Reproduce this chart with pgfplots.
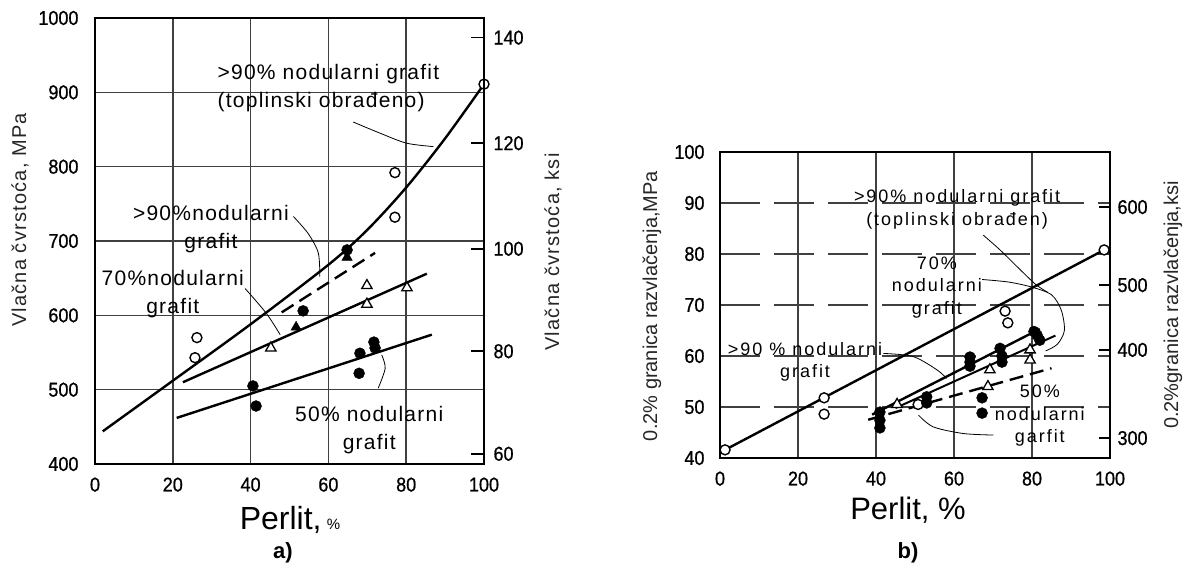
\documentclass[border=0pt]{standalone}
\usepackage{fontspec}
\setmainfont{Liberation Sans}
\newfontfamily\cond[FakeStretch=0.9,FakeBold=0.8]{Liberation Sans}
\newfontfamily\spaced[LetterSpace=6]{Liberation Sans}
\newfontfamily\spacedb[LetterSpace=11]{Liberation Sans}
\newcommand{\tkf}{\cond\fontsize{20}{20}\selectfont}
\usepackage{pgfplots}
\pgfplotsset{compat=1.18}
\pgfplotsset{
  oc/.style={only marks, mark=*, mark size=5pt, mark options={fill=white,draw=black,line width=1.4pt}},
  fc/.style={only marks, mark=*, mark size=5.5pt, mark options={fill=black,draw=black}},
  ft/.style={only marks, mark=triangle*, mark size=6pt, mark options={fill=black,draw=black}},
  ot/.style={only marks, mark=triangle*, mark size=6pt, mark options={fill=white,draw=black,line width=1.3pt}},
  fitline/.style={no marks, black, line width=2.4pt},
  leader/.style={no marks, smooth, black, line width=0.8pt},
  every tick label/.append style={font=\tkf, black},
  base/.style={scale only axis, clip=false, xmin=0, xmax=100,
    /pgf/number format/assume math mode=true,
    /pgf/number format/1000 sep={},
    axis line style={line width=2.2pt, black}},
}
\begin{document}
\begin{tikzpicture}[x=1pt,y=1pt]
\path[use as bounding box] (0,0) rectangle (1184,584);
% ---------------- panel a ----------------
\begin{axis}[base, at={(95pt,120pt)}, anchor=south west, width=389pt, height=446pt,
  ymin=400, ymax=1000, xtick={0,20,...,100}, ytick={400,500,...,1000},
  grid=major, major grid style={black!75, line width=1.5pt},
  major tick length=0pt,
  xticklabel style={yshift=-10pt}, yticklabel style={xshift=-13pt}]
\addplot[fitline, smooth] coordinates {(2,444) (20,512) (40,588) (60,668) (70,715) (80,772) (90,838) (100,911)};
\addplot[fitline, dash pattern=on 14pt off 7pt] coordinates {(48,604) (72,684)};
\addplot[fitline] coordinates {(22.6,510) (85.3,656)};
\addplot[fitline] coordinates {(21,462) (86.6,574)};
\addplot[oc] coordinates {(26.2,570) (25.7,543) (77.1,792) (77.1,732) (100,911)};
\addplot[fc] coordinates {(40.6,505) (41.4,478) (68.1,549) (67.9,522) (71.7,564) (72,556) (53.5,606) (64.8,688)};
\addplot[ft] coordinates {(51.7,584) (64.8,678)};
\addplot[ot] coordinates {(45.2,556) (69.9,640) (69.9,615) (80.2,637)};
\addplot[leader] coordinates {(66.4,860) (73.3,845) (80.1,831.6) (87,827)};
\addplot[leader] coordinates {(51,733) (54.8,710) (57.4,684) (57.8,652)};
\addplot[leader] coordinates {(38.6,636) (44,603) (47.6,574)};
\addplot[leader] coordinates {(72.8,502) (74.6,528.8) (73.7,546.7)};
\node[anchor=west, align=left, font=\spaced\fontsize{21}{28}\selectfont] at (axis cs:30.6,906) {>90\% nodularni grafit\\(toplinski obrađeno)};
\node[align=center, font=\spaced\fontsize{21}{28}\selectfont] at (axis cs:29.8,716) {>90\%nodularni\\grafit};
\node[align=center, font=\spaced\fontsize{21}{28}\selectfont] at (axis cs:20,628) {70\%nodularni\\grafit};
\node[align=center, font=\spaced\fontsize{21}{28}\selectfont] at (axis cs:70.5,446) {50\% nodularni\\grafit};
\end{axis}
\begin{axis}[base, at={(95pt,120pt)}, anchor=south west, width=389pt, height=446pt,
  ymin=58.01, ymax=145.03, axis x line=none, axis y line*=right,
  ytick={60,80,100,120.6,141.2}, yticklabels={60,80,100,120,140},
  tick align=inside, major tick length=13pt,
  tick style={line width=1.6pt, black}, yticklabel style={xshift=6pt}]
\end{axis}
% ---------------- panel b ----------------
\begin{axis}[base, at={(720pt,126pt)}, anchor=south west, width=390pt, height=306pt,
  ymin=40, ymax=100, xtick={0,20,...,100}, ytick={40,50,...,100},
  grid=major, x grid style={black!75, line width=1.5pt},
  y grid style={black!75, line width=1.5pt, dash pattern=on 40pt off 14pt},
  major tick length=0pt,
  xticklabel style={yshift=-10pt}, yticklabel style={xshift=-12pt}]
\addplot[fitline] coordinates {(1.3,41.6) (98.5,80.8)};
\addplot[fitline] coordinates {(39,48.5) (82,65.3)};
\addplot[fitline, line width=2pt] coordinates {(45,49.8) (86,64)};
\addplot[fitline, dash pattern=on 14pt off 7pt] coordinates {(38,47.5) (85,57.6)};
\addplot[oc] coordinates {(1.3,41.6) (26.7,51.8) (26.7,48.6) (73.1,68.8) (73.8,66.5) (98.5,80.8) (50.8,50.5)};
\addplot[fc] coordinates {(41,49) (41,47.4) (41,45.9) (53,50.8) (53,52) (64.1,58.8) (64.1,59.8) (64.1,58) (71.8,61.5) (72.3,60) (72.3,58.8) (67.2,51.8) (67.2,48.8) (81.3,64.1) (82,63.1) (80.5,64.8)};
\addplot[ot] coordinates {(45.4,50.5) (79.5,61.2) (79.5,59.2) (69.2,57.3) (68.7,54)};
\addplot[leader] coordinates {(67.5,83.7) (71.8,80.8) (77,76.9) (81,74) (84,72.5)};
\addplot[leader] coordinates {(67.2,75) (74,74.5) (80,73.5) (85,72) (87.5,69) (88.3,65) (86.5,62.3) (83.5,61)};
\addplot[leader] coordinates {(41.9,60.5) (49.5,59.9) (55.6,57.3) (58.1,55.6)};
\addplot[leader] coordinates {(50.9,48.4) (54.7,46.1) (62.4,44.8) (70.1,44.5)};
\node[align=center, font=\spacedb\fontsize{18}{22.5}\selectfont] at (axis cs:60.8,88.8) {>90\% nodularni grafit\\(toplinski obrađen)};
\node[align=center, font=\spacedb\fontsize{18}{22.5}\selectfont] at (axis cs:55.6,73.5) {70\%\\nodularni\\grafit};
\node[align=center, font=\spacedb\fontsize{18}{22.5}\selectfont] at (axis cs:21.8,58.9) {>90 \% nodularni\\grafit};
\node[align=center, font=\spacedb\fontsize{18}{22.5}\selectfont] at (axis cs:82,48.3) {50\%\\nodularni\\garfit};
\end{axis}
\begin{axis}[base, at={(720pt,126pt)}, anchor=south west, width=390pt, height=306pt,
  ymin=40, ymax=100, axis x line=none, axis y line*=right,
  ytick={43.9,61.2,73.9,89.2}, yticklabels={300,400,500,600},
  tick align=inside, major tick length=11pt,
  tick style={line width=1.6pt, black}, yticklabel style={xshift=4pt}]
\end{axis}
% ---------------- labels ----------------
\node[rotate=90, font=\spaced\fontsize{20}{20}\selectfont, black!85] at (20,364) {Vlačna čvrstoća, MPa};
\node[rotate=90, font=\spaced\fontsize{20}{20}\selectfont, black!85] at (553,332) {Vlačna čvrstoća, ksi};
\node[rotate=90, font=\fontsize{20}{20}\selectfont, black!85] at (652,278) {0.2\% granica razvlačenja,MPa};
\node[rotate=90, font=\fontsize{20}{20}\selectfont, black!85] at (1173,279) {0.2\%granica razvlačenja,ksi};
\node[font=\fontsize{32}{32}\selectfont] at (290,64) {Perlit,\,{\fontsize{15}{15}\selectfont\%}};
\node[font=\fontsize{31}{31}\selectfont] at (908,74) {Perlit, \%};
\node[font=\bfseries\fontsize{22}{22}\selectfont] at (283,31) {a)};
\node[font=\bfseries\fontsize{22}{22}\selectfont] at (908,31) {b)};
\end{tikzpicture}
\end{document}
